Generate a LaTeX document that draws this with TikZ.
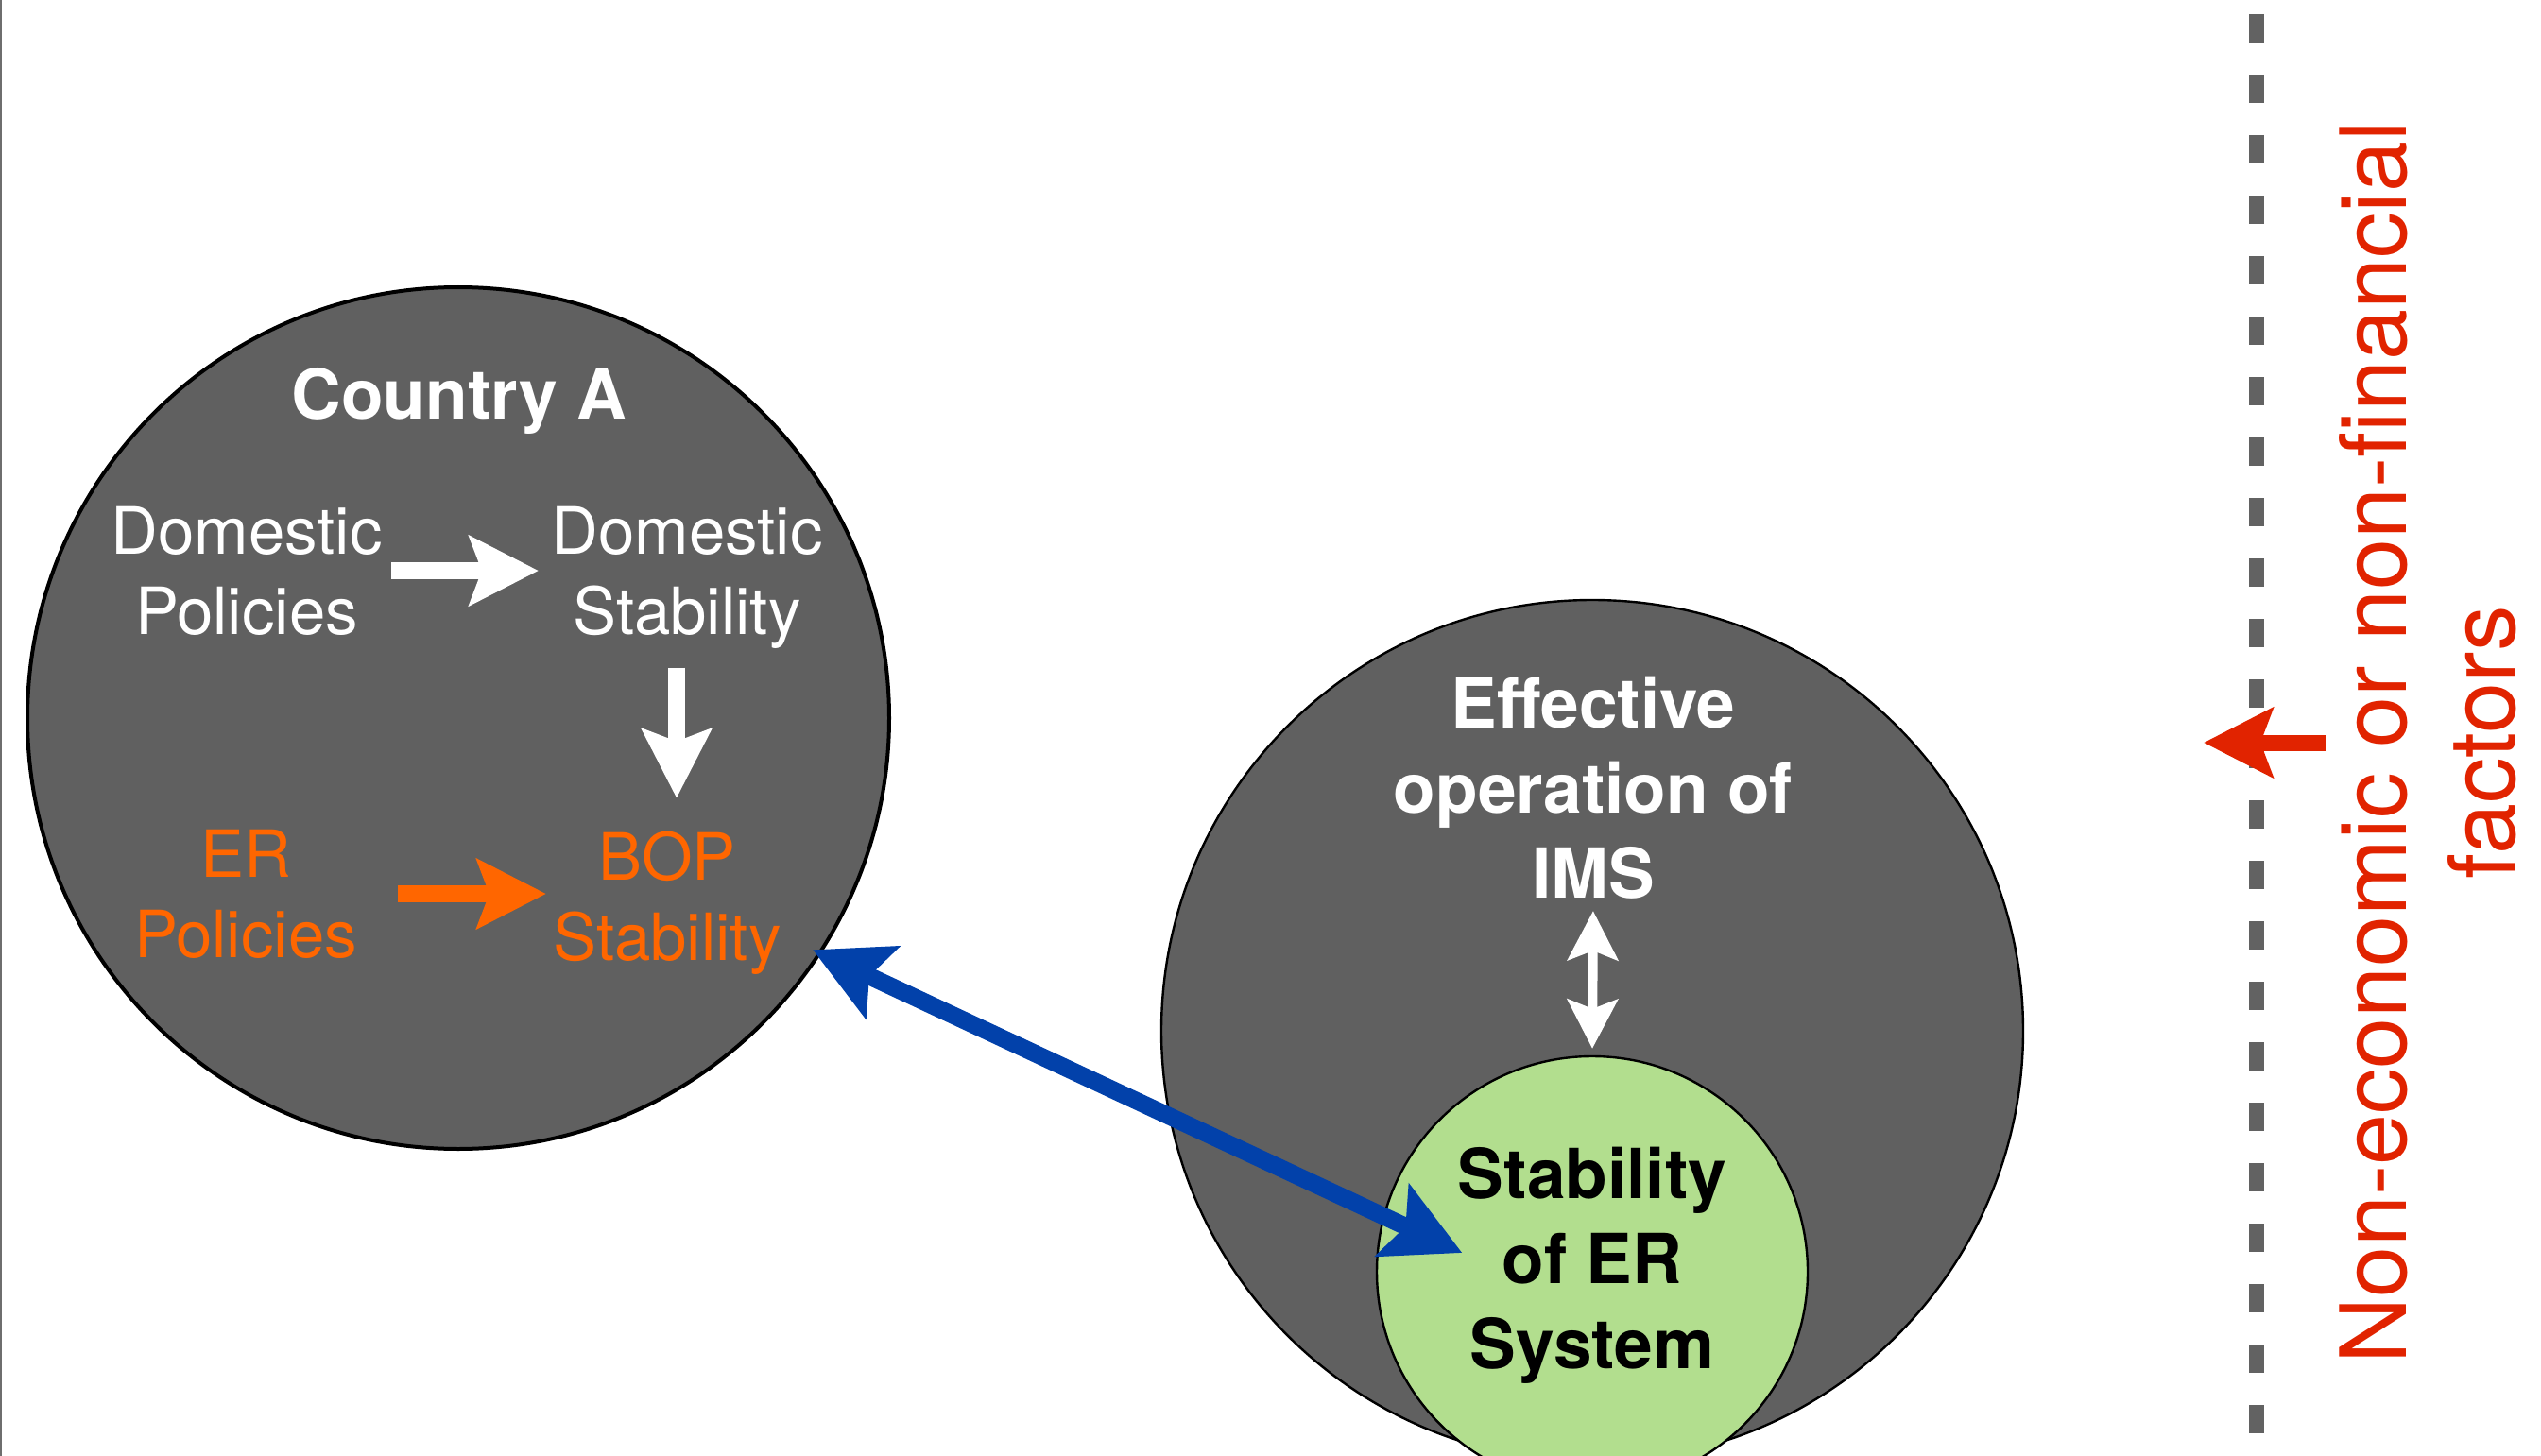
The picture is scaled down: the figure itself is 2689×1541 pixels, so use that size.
\documentclass[tikz,border=0pt]{standalone}
\usepackage{fontspec}
\setmainfont{TeX Gyre Heros}
\usetikzlibrary{arrows.meta}
\tikzset{every picture/.style={line width=0.75pt}}
\tikzset{
disc/.style={circle, draw={rgb, 255:red, 0; green, 0; blue, 0 }, fill={rgb, 255:red, 96; green, 96; blue, 96 }, inner sep=0pt},
plainTxt/.style={align=center, inner sep=0pt, font=\fontsize{17.25}{21.25}\selectfont},
boldTxt/.style={align=center, inner sep=0pt, font=\fontsize{18.25}{22.5}\selectfont\bfseries},
redTxt/.style={align=center, inner sep=0pt, font=\fontsize{24.25}{28.75}\selectfont, text={rgb, 255:red, 225; green, 35; blue, 0 }},
fatArrow/.style={line width=4.5pt, -{Stealth[length=18.25pt, width=18.25pt, inset=3.25pt]}},
fatTwoWay/.style={line width=4.6pt, {Stealth[length=20.25pt, width=20.75pt, inset=3.75pt]}-{Stealth[length=20.25pt, width=20.75pt, inset=3.75pt]}},
thinTwoWay/.style={line width=2.5pt, {Stealth[length=13pt, width=13.25pt, inset=2.5pt]}-{Stealth[length=13pt, width=13.25pt, inset=2.5pt]}}
}
\begin{document}
\begin{tikzpicture}[x=0.25pt,y=0.25pt,yscale=-1]
\useasboundingbox (0,0) rectangle (2689,1541);

%Straight Lines [left frame]
\draw [color={rgb, 255:red, 110; green, 110; blue, 110 }, line width=0.5pt] (1,0) -- (1,1541);
%Straight Lines [dashed border]
\draw [color={rgb, 255:red, 98; green, 98; blue, 98 }, line width=4pt, dash pattern=on 7.5pt off 8.5pt] (2388,15) -- (2388,1520);

%Shape: Circle [Country A]
\node (cA) at (485,760) [disc, minimum size=228pt, line width=1pt] {};
%Shape: Circle [IMS]
\node (cIMS) at (1685,1091) [disc, minimum size=228pt, line width=0.6pt] {};
%Shape: Circle [ER system]
\node (cER) at (1685,1346) [disc, fill={rgb, 255:red, 178; green, 222; blue, 142 }, minimum size=114pt, line width=0.6pt] {};

% Text Node
\node (country) at (486,424) [boldTxt, text=white] {Country A};
% Text Node
\node (domPol) at (261,604) [plainTxt, text=white] {Domestic\\Policies};
% Text Node
\node (domStab) at (727,611) [plainTxt, text=white] {Domestic\\Stability};
% Text Node
\node (erPol) at (260,946) [plainTxt, text={rgb, 255:red, 255; green, 102; blue, 0 }] {ER\\Policies};
% Text Node
\node (bopStab) at (706,956) [plainTxt, text={rgb, 255:red, 255; green, 102; blue, 0 }] {BOP\\Stability};
% Text Node
\node (ims) at (1686,834) [boldTxt, text=white] {Effective\\operation of\\IMS};
% Text Node
\node (erSys) at (1685,1339) [boldTxt, text=black] {Stability\\of ER\\System};
% Text Node
\node (nonEcon) at (2569,786) [redTxt, rotate=90] {Non-economic or non-financial\\factors};
\coordinate (dashTip) at (2332,786);

%Straight Lines [policies to stability]
\draw [fatArrow, color=white, shorten <=2pt, shorten >=3pt] (domPol.east) -- (domPol.east -| domStab.west);
\draw [fatArrow, color=white, shorten <=4.75pt, shorten >=8.5pt] ([xshift=-2.75pt]domStab.south) -- ([xshift=2.5pt]bopStab.north);
\draw [fatArrow, color={rgb, 255:red, 255; green, 102; blue, 0 }, shorten <=10.5pt, shorten >=1.5pt] (erPol.east) -- (erPol.east -| bopStab.west);
%Straight Lines [IMS and ER system]
\draw [thinTwoWay, color=white, shorten <=2.75pt, shorten >=1.75pt] (ims.south) -- (cER.north);
%Straight Lines [country and ER system]
\draw [fatTwoWay, color={rgb, 255:red, 2; green, 65; blue, 170 }, shorten <=-2.5pt] (cA.-33.6) -- ([xshift=1.5pt, yshift=-3.25pt]erSys.west);
%Straight Lines [outside factors]
\draw [fatArrow, color={rgb, 255:red, 225; green, 35; blue, 0 }, line width=4.25pt, shorten <=3.25pt] (nonEcon.north) -- (dashTip);

\end{tikzpicture}
\end{document}
